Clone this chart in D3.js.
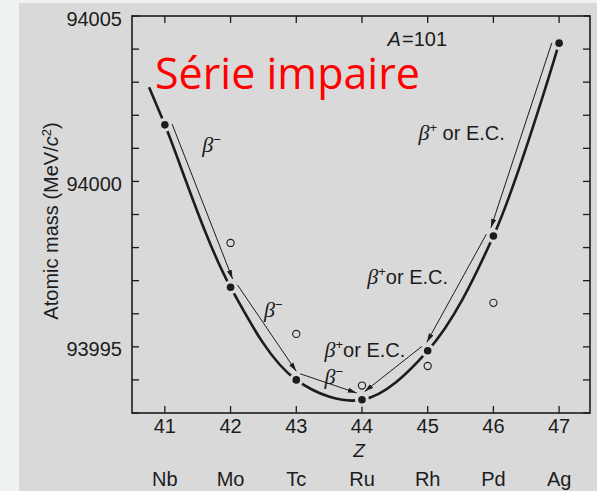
<!DOCTYPE html>
<html><head><meta charset="utf-8">
<script src="https://cdn.jsdelivr.net/npm/d3@7"></script>
<style>
html,body{margin:0;padding:0;background:#eef3f2;}
svg{display:block;}
</style></head><body>
<svg id="chart" width="597" height="491"></svg>
<script>
// Isobars A = 101: atomic masses (MeV/c^2) by proton number Z
const elements   = ["Nb", "Mo", "Tc", "Ru", "Rh", "Pd", "Ag"];
const zValues    = [41, 42, 43, 44, 45, 46, 47];
const groundMass = [94001.71, 93996.80, 93994.00, 93993.40, 93994.88, 93998.35, 94004.18];
const otherMass  = [null, 93998.14, 93995.39, 93993.83, 93994.42, 93996.33, null];
// mass parabola extends a little beyond Nb on the left
const curveLead  = [40.76, 94002.85];
const yTickValues = d3.range(93993, 94006, 1);
const yTickLabels = [93995, 94000, 94005];
// decay chains toward the most stable isobar (Ru)
const decays = [[41, 42], [42, 43], [43, 44], [47, 46], [46, 45], [45, 44]];
const decayLabels = [
  {z: 41.57, m: 94000.89, sign: "\u2212", rest: ""},
  {z: 42.51, m: 93995.90, sign: "\u2212", rest: ""},
  {z: 43.43, m: 93993.88, sign: "\u2212", rest: ""},
  {z: 43.43, m: 93994.69, sign: "+", rest: "or E.C."},
  {z: 44.08, m: 93996.90, sign: "+", rest: "or E.C."},
  {z: 44.86, m: 94001.25, sign: "+", rest: " or E.C."}
];

const paper = "#d9d9d9", ink = "#1c1c1c";
const svg = d3.select("#chart");

svg.append("rect").attr("x", 19).attr("y", 3).attr("width", 578).attr("height", 488).attr("fill", paper);

const x = d3.scaleLinear().domain([40.5, 47.47]).range([132, 590]);
const y = d3.scaleLinear().domain([93993, 94005]).range([413, 16]);

const defs = svg.append("defs");
defs.append("marker").attr("id", "head")
  .attr("viewBox", "0 0 9 6").attr("refX", 9).attr("refY", 3)
  .attr("markerWidth", 9).attr("markerHeight", 6)
  .attr("markerUnits", "userSpaceOnUse").attr("orient", "auto")
  .append("path").attr("d", "M0,0.5 L9,3 L0,5.5 Z").attr("fill", ink);

// frame
svg.append("rect").attr("x", x.range()[0]).attr("y", y.range()[1])
  .attr("width", x.range()[1] - x.range()[0]).attr("height", y.range()[0] - y.range()[1])
  .attr("fill", "none").attr("stroke", ink).attr("stroke-width", 1.6);

const tickLen = 7;
const axisG = svg.append("g").attr("stroke", ink).attr("stroke-width", 1.3);
yTickValues.forEach(v => {
  axisG.append("line").attr("x1", x.range()[0]).attr("x2", x.range()[0] + tickLen)
    .attr("y1", y(v)).attr("y2", y(v));
  axisG.append("line").attr("x1", x.range()[1]).attr("x2", x.range()[1] - tickLen)
    .attr("y1", y(v)).attr("y2", y(v));
});
zValues.forEach(z => {
  axisG.append("line").attr("x1", x(z)).attr("x2", x(z))
    .attr("y1", y.range()[0]).attr("y2", y.range()[0] - tickLen);
  axisG.append("line").attr("x1", x(z)).attr("x2", x(z))
    .attr("y1", y.range()[1]).attr("y2", y.range()[1] + tickLen);
});

const sans = "'Liberation Sans', Arial, sans-serif";
svg.append("g").selectAll("text").data(yTickLabels).join("text")
  .attr("x", 122).attr("y", d => y(d) + 9.5).attr("text-anchor", "end")
  .attr("font-family", sans).attr("font-size", 20).attr("fill", ink).text(d => d);

svg.append("g").selectAll("text").data(zValues).join("text")
  .attr("x", d => x(d)).attr("y", 433).attr("text-anchor", "middle")
  .attr("font-family", sans).attr("font-size", 20).attr("fill", ink).text(d => d);

svg.append("g").selectAll("text").data(elements).join("text")
  .attr("x", (d, i) => x(zValues[i])).attr("y", 486).attr("text-anchor", "middle")
  .attr("font-family", sans).attr("font-size", 20).attr("fill", ink).text(d => d);

svg.append("text").attr("x", x(44) - 3).attr("y", 457).attr("text-anchor", "middle")
  .attr("font-family", sans).attr("font-style", "italic").attr("font-size", 19)
  .attr("fill", ink).text("Z");

// y axis title
const yt = svg.append("text").attr("transform", "translate(57.5,221) rotate(-90)")
  .attr("text-anchor", "middle").attr("font-family", sans).attr("font-size", 20).attr("fill", ink);
yt.append("tspan").text("Atomic mass (MeV/");
yt.append("tspan").attr("font-style", "italic").text("c");
yt.append("tspan").attr("font-size", 13).attr("dy", -7).text("2");
yt.append("tspan").attr("dy", 7).text(")");

// A = 101
const at = svg.append("text").attr("x", x(44.39)).attr("y", y(94004.1))
  .attr("font-family", sans).attr("font-size", 20).attr("fill", ink);
at.append("tspan").attr("font-style", "italic").text("A");
at.append("tspan").attr("dx", 1).text("=101");

// mass parabola through the ground-state masses
const curvePts = [curveLead].concat(zValues.map((z, i) => [z, groundMass[i]]));
svg.append("path").datum(curvePts)
  .attr("d", d3.line().x(d => x(d[0])).y(d => y(d[1])).curve(d3.curveCatmullRom.alpha(0.5)))
  .attr("fill", "none").attr("stroke", ink).attr("stroke-width", 2.6);

// gaps in the curve around each ground-state point
svg.append("g").selectAll("circle").data(zValues).join("circle")
  .attr("cx", d => x(d)).attr("cy", (d, i) => y(groundMass[i])).attr("r", 7).attr("fill", paper);

// decay arrows, drawn beside the parabola on its outer side
const massOf = z => groundMass[zValues.indexOf(z)];
const arrowG = svg.append("g");
decays.forEach(([a, b]) => {
  const x1 = x(a), y1 = y(massOf(a)), x2 = x(b), y2 = y(massOf(b));
  const dx = x2 - x1, dy = y2 - y1, L = Math.hypot(dx, dy);
  const ux = dx / L, uy = dy / L;
  let nx = uy, ny = -ux;
  if (ny > 0) { nx = -nx; ny = -ny; }
  const offS = 7, offE = 5, trimS = 2, trimE = 7;
  arrowG.append("line")
    .attr("x1", x1 + ux * trimS + nx * offS).attr("y1", y1 + uy * trimS + ny * offS)
    .attr("x2", x2 - ux * trimE + nx * offE).attr("y2", y2 - uy * trimE + ny * offE)
    .attr("stroke", ink).attr("stroke-width", 1).attr("marker-end", "url(#head)");
});

// excited / alternative mass points
svg.append("g").selectAll("circle")
  .data(zValues.map((z, i) => [z, otherMass[i]]).filter(d => d[1] !== null)).join("circle")
  .attr("cx", d => x(d[0])).attr("cy", d => y(d[1])).attr("r", 3.6)
  .attr("fill", "none").attr("stroke", ink).attr("stroke-width", 1.1);

// ground-state points
svg.append("g").selectAll("circle").data(zValues).join("circle")
  .attr("cx", d => x(d)).attr("cy", (d, i) => y(groundMass[i])).attr("r", 3.8).attr("fill", ink);

// decay mode labels
decayLabels.forEach(l => {
  const t = svg.append("text").attr("x", x(l.z)).attr("y", y(l.m))
    .attr("font-family", sans).attr("font-size", 20).attr("fill", ink);
  t.append("tspan").attr("font-family", "'Liberation Serif', 'DejaVu Serif', serif")
    .attr("font-style", "italic").attr("font-size", 22).text("\u03B2");
  t.append("tspan").attr("font-size", 13).attr("dy", -8).text(l.sign);
  if (l.rest) t.append("tspan").attr("dy", 8).text(l.rest);
});

// series title
svg.append("text").attr("x", 155).attr("y", 89)
  .attr("font-family", "'Open Sans', 'Noto Sans', sans-serif").attr("font-size", 43)
  .attr("fill", "#ff0000").text("Série impaire");
</script>
</body></html>
